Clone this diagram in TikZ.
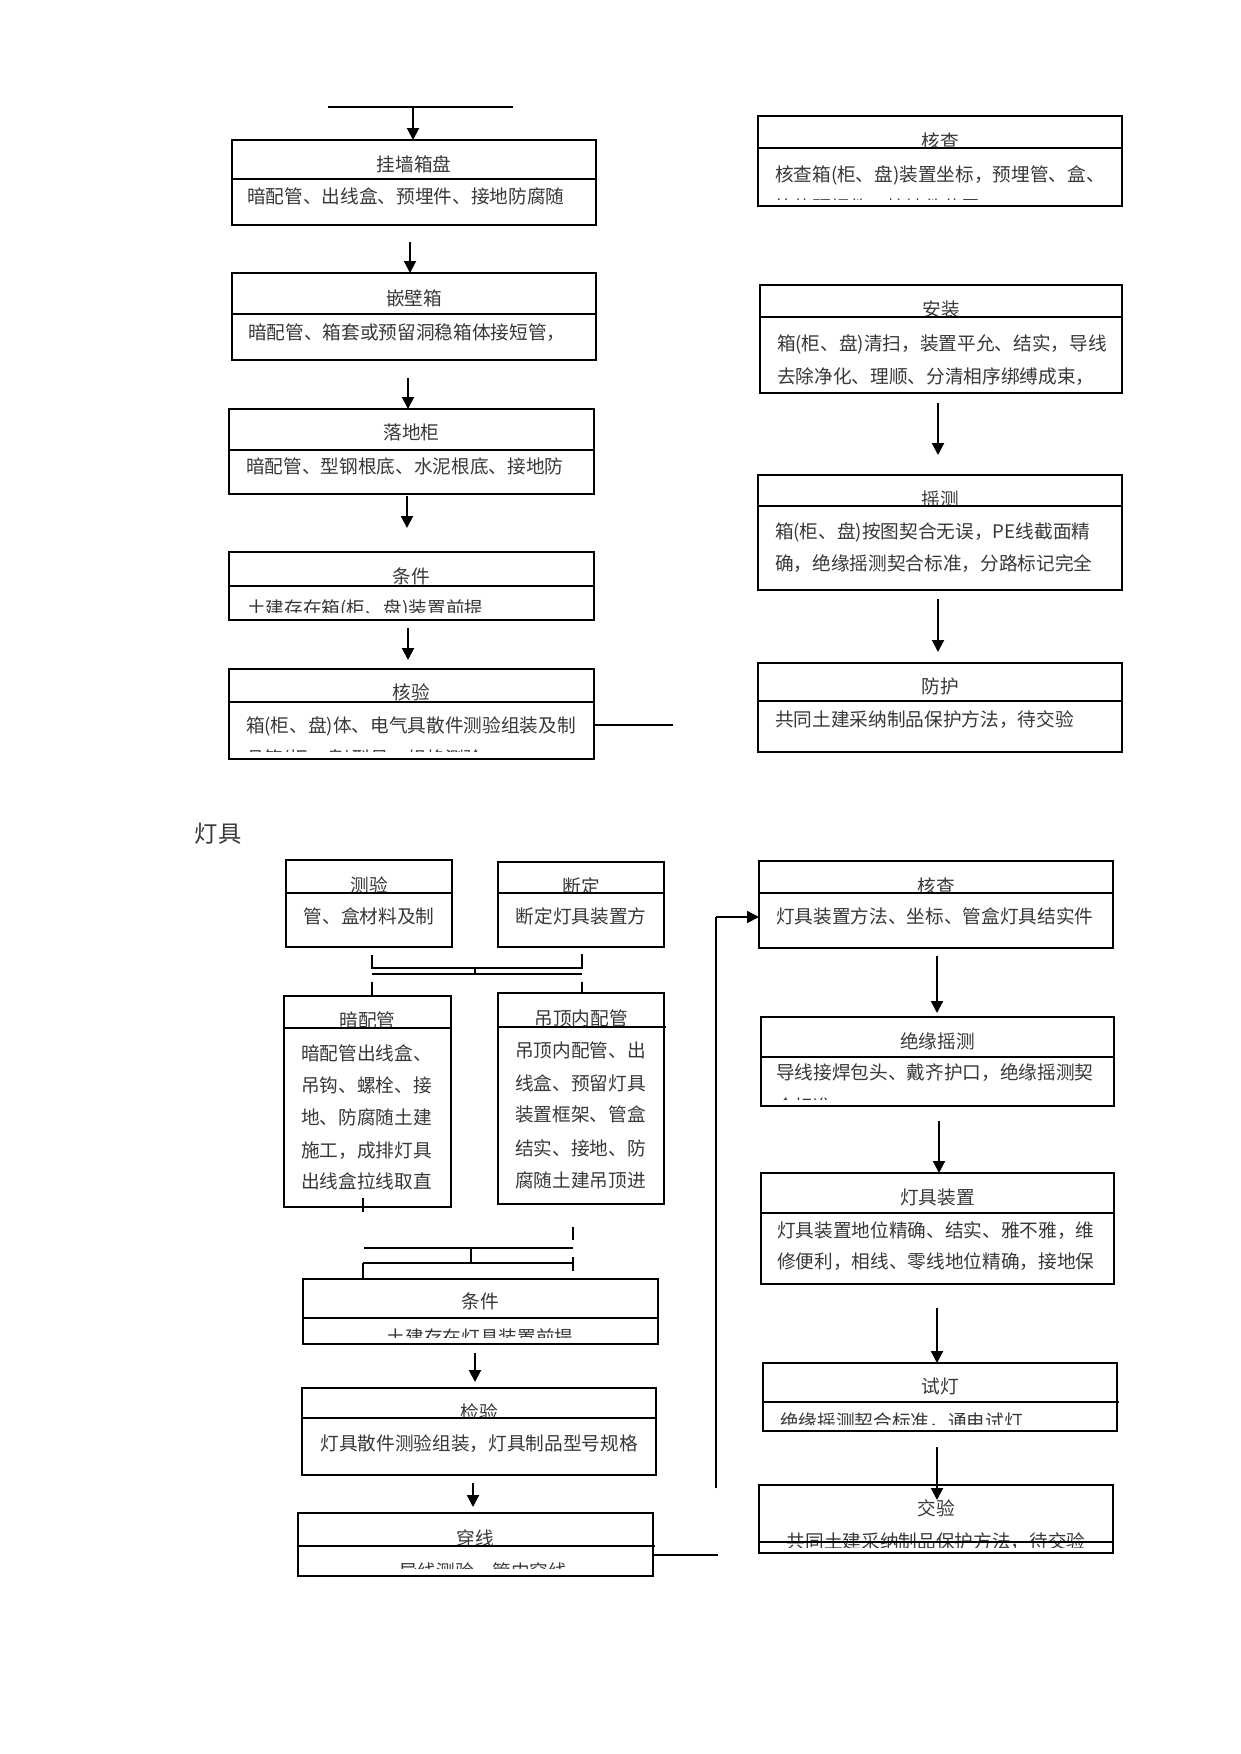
\documentclass[tikz,border=0pt]{standalone}
\usepackage{fontspec}
\newfontfamily\cjkf{Noto Sans CJK SC}
\usetikzlibrary{arrows.meta,fit}
\tikzset{
  boxs/.style={draw, line width=1.4pt, inner sep=0pt, outer sep=0pt},
  divl/.style={line width=1pt},
  txt/.style={font=\cjkf\fontsize{14}{16}\selectfont, inner sep=0pt, outer sep=0pt, text height=11.7pt, text depth=2.3pt, text=black!78},
  arr/.style={line width=1.5pt, -{Triangle[length=9pt,width=9pt]}},
  conn/.style={line width=1pt},
  thk/.style={line width=1.6pt},
}
% name, x1, y1, x2, y2, ydiv, title, title-y
\newcommand\fbx[8]{%
  \node[boxs, fit={(#2,#3) (#4,#5)}] (#1) {};
  \begin{scope}
    \clip (#2,#3) rectangle (#4,#6);
    \node[txt] (#1-t) at ({(#2+#4)/2},#8) {#7};
  \end{scope}
  \draw[divl] (#2,#6) -- (#4,#6);
}
\begin{document}
\begin{tikzpicture}[x=0.75pt,y=-0.75pt]
\fill[white] (0,0) rectangle (1241,1754);
\useasboundingbox (0,0) rectangle (1241,1754);

%================ upper left column
\coordinate (t0a) at (328,107); \coordinate (t0b) at (513,107);
\draw[thk] (t0a) -- (t0b);
\fbx{L1}{232}{140}{596}{225}{179}{挂墙箱盘}{165}
\coordinate (t0m) at (413,107);
\draw[arr] (t0m) -- (t0m |- L1.north);
\node[txt,anchor=west] (L1-a) at (247,197) {暗配管、出线盒、预埋件、接地防腐随};

\fbx{L2}{232}{273}{596}{360}{314}{嵌壁箱}{299}
\node[txt,anchor=west] (L2-a) at (248,333) {暗配管、箱套或预留洞稳箱体接短管，};
\coordinate (a1) at (410,242);
\draw[arr] (a1) -- (a1 |- L2.north);

\fbx{L3}{229}{409}{594}{494}{450}{落地柜}{433}
\node[txt,anchor=west] (L3-a) at (246,467) {暗配管、型钢根底、水泥根底、接地防};
\coordinate (a2) at (408,378);
\draw[arr] (a2) -- (a2 |- L3.north);

\fbx{L4}{229}{552}{594}{620}{586}{条件}{577}
\begin{scope}\clip (229,586) rectangle (594,612);
\node[txt,anchor=west] (L4-a) at (247,609) {土建存在箱(柜、盘)装置前提};
\end{scope}
\coordinate (a3s) at (407,496); \coordinate (a3e) at (407,528);
\draw[arr] (a3s) -- (a3e);

\fbx{L5}{229}{669}{594}{759}{702}{核验}{693}
\begin{scope}\clip (229,702) rectangle (594,751);
\node[txt,anchor=west] (L5-a) at (246,726) {箱(柜、盘)体、电气具散件测验组装及制};
\node[txt,anchor=west] (L5-b) at (246,759) {品箱(柜、盘)型号、规格测验};
\end{scope}
\coordinate (a4s) at (408,628); \coordinate (a4e) at (408,660);
\draw[arr] (a4s) -- (a4e);
\coordinate (k1) at (673,725);
\draw[thk] (L5.east |- k1) -- (k1);

%================ upper right column
\fbx{R1}{758}{116}{1122}{206}{148}{核查}{142}
\begin{scope}\clip (758,148) rectangle (1122,199);
\node[txt,anchor=west] (R1-a) at (775,175) {核查箱(柜、盘)装置坐标，预埋管、盒、};
\node[txt,anchor=west] (R1-b) at (775,208) {箱体预埋件、接地件位置};
\end{scope}

\fbx{R2}{760}{285}{1122}{393}{317}{安装}{310}
\node[txt,anchor=west] (R2-a) at (777,344) {箱(柜、盘)清扫，装置平允、结实，导线};
\node[txt,anchor=west] (R2-b) at (777,377) {去除净化、理顺、分清相序绑缚成束，};

\fbx{R3}{758}{475}{1122}{590}{506}{摇测}{500}
\node[txt,anchor=west] (R3-a) at (775,532) {箱(柜、盘)按图契合无误，PE线截面精};
\node[txt,anchor=west] (R3-b) at (775,564) {确，绝缘摇测契合标准，分路标记完全};
\coordinate (b1s) at (938,403); \coordinate (b1e) at (938,455);
\draw[arr] (b1s) -- (b1e);

\fbx{R4}{758}{663}{1122}{752}{701}{防护}{687}
\node[txt,anchor=west] (R4-a) at (775,720) {共同土建采纳制品保护方法，待交验};
\coordinate (b2s) at (938,599); \coordinate (b2e) at (938,652);
\draw[arr] (b2s) -- (b2e);

%================ heading
\node[txt, font=\cjkf\fontsize{17.5}{20}\selectfont, text height=14.6pt, text depth=2.9pt] (hd) at (218,835) {灯具};

%================ lower left part
\fbx{C1}{286}{860}{452}{947}{893}{测验}{886}
\node[txt] (C1-a) at (369,917) {管、盒材料及制};
\fbx{C2}{498}{862}{664}{947}{893}{断定}{887}
\node[txt] (C2-a) at (581,917) {断定灯具装置方};

% junction under C1 / C2
\coordinate (ja) at (372,955); \coordinate (jb) at (372,968);
\coordinate (jc) at (582,954); \coordinate (jd) at (582,968);
\coordinate (je) at (372,974); \coordinate (jf) at (582,974);
\coordinate (jg) at (475,968); \coordinate (jh) at (475,974);
\draw[thk] (ja) -- (jb) -- (jd) -- (jc);
\draw[conn] (je) -- (jf);
\draw[conn] (jg) -- (jh);

\fbx{C3}{284}{996}{451}{1207}{1028}{暗配管}{1021}
\node[txt,anchor=west] (C3-a) at (301,1054) {暗配管出线盒、};
\node[txt,anchor=west] (C3-b) at (301,1086) {吊钩、螺栓、接};
\node[txt,anchor=west] (C3-c) at (301,1118) {地、防腐随土建};
\node[txt,anchor=west] (C3-d) at (301,1151) {施工，成排灯具};
\node[txt,anchor=west] (C3-e) at (301,1182) {出线盒拉线取直};

\fbx{C4}{498}{993}{664}{1204}{1027}{吊顶内配管}{1019}
\draw[divl] (C4.east |- 0,1027) -- (666,1027);
\node[txt,anchor=west] (C4-a) at (515,1051) {吊顶内配管、出};
\node[txt,anchor=west] (C4-b) at (515,1084) {线盒、预留灯具};
\node[txt,anchor=west] (C4-c) at (515,1115) {装置框架、管盒};
\node[txt,anchor=west] (C4-d) at (515,1149) {结实、接地、防};
\node[txt,anchor=west] (C4-e) at (515,1181) {腐随土建吊顶进};

\coordinate (jk) at (372,982); \coordinate (jl) at (582,982);
\draw[thk] (jk) -- (jk |- C3.north);
\draw[thk] (jl) -- (jl |- C4.north);

% junction under C3 / C4
\coordinate (ma) at (363,1198); \coordinate (mb) at (363,1212);
\draw[conn] (ma) -- (mb);
\coordinate (mc) at (573,1227); \coordinate (md) at (573,1240);
\draw[conn] (mc) -- (md);
\coordinate (me) at (364,1248); \coordinate (mf) at (573,1248);
\draw[conn] (me) -- (mf);
\coordinate (mg) at (471,1248); \coordinate (mh) at (471,1263);
\draw[conn] (mg) -- (mh);
\coordinate (mi) at (363,1263); \coordinate (mj) at (573,1263);
\draw[thk] (mi) -- (mj);
\coordinate (mk) at (573,1257); \coordinate (ml) at (573,1271);
\draw[conn] (mk) -- (ml);

\fbx{C5}{303}{1279}{658}{1344}{1318}{条件}{1302}
\begin{scope}\clip (303,1318) rectangle (658,1337);
\node[txt] (C5-a) at (480,1338) {土建存在灯具装置前提};
\end{scope}
\draw[conn] (mi) -- (mi |- C5.north);

\fbx{C6}{302}{1388}{656}{1475}{1418}{检验}{1413}
\node[txt] (C6-a) at (479,1444) {灯具散件测验组装，灯具制品型号规格};
\coordinate (c1s) at (475,1353); \coordinate (c1e) at (475,1382);
\draw[arr] (c1s) -- (c1e);

\fbx{C7}{298}{1513}{653}{1576}{1546}{穿线}{1539}
\draw[divl] (C7.east |- 0,1546) -- (655,1546);
\begin{scope}\clip (298,1546) rectangle (653,1568);
\node[txt] (C7-a) at (483,1572) {导线测验，管内穿线};
\end{scope}
\coordinate (c2s) at (473,1483); \coordinate (c2e) at (473,1507);
\draw[arr] (c2s) -- (c2e);

%================ lower right column
\fbx{D1}{759}{861}{1113}{948}{893}{核查}{887}
\node[txt,anchor=west] (D1-a) at (776,917) {灯具装置方法、坐标、管盒灯具结实件};

\fbx{D2}{761}{1017}{1114}{1106}{1057}{绝缘摇测}{1042}
\begin{scope}\clip (761,1057) rectangle (1114,1099);
\node[txt,anchor=west] (D2-a) at (776,1073) {导线接焊包头、戴齐护口，绝缘摇测契};
\node[txt,anchor=west] (D2-b) at (776,1107) {合标准};
\end{scope}
\coordinate (d1s) at (937,956); \coordinate (d1e) at (937,1013);
\draw[arr] (d1s) -- (d1e);

\fbx{D3}{761}{1173}{1114}{1284}{1213}{灯具装置}{1198}
\node[txt,anchor=west] (D3-a) at (777,1231) {灯具装置地位精确、结实、雅不雅，维};
\node[txt,anchor=west] (D3-b) at (777,1262) {修便利，相线、零线地位精确，接地保};
\coordinate (d2s) at (939,1121);
\draw[arr] (d2s) -- (d2s |- D3.north);

\fbx{D4}{763}{1363}{1117}{1431}{1402}{试灯}{1387}
\draw[divl] (D4.east |- 0,1402) -- (1119,1402);
\begin{scope}\clip (763,1402) rectangle (1117,1424);
\node[txt,anchor=west] (D4-a) at (780,1422) {绝缘摇测契合标准，通电试灯};
\end{scope}
\coordinate (d3s) at (937,1308);
\draw[arr] (d3s) -- (d3s |- D4.north);

\fbx{D5}{759}{1485}{1113}{1553}{1542}{交验}{1509}
\begin{scope}\clip (759,1485) rectangle (1113,1547);
\node[txt] (D5-a) at (936,1542) {共同土建采纳制品保护方法，待交验};
\end{scope}
\draw[divl] (759,1542) -- (1113,1542);
\coordinate (d4s) at (937,1447); \coordinate (d4e) at (937,1500);
\draw[arr] (d4s) -- (d4e);

% feedback line to 核查
\coordinate (fb1) at (716,1488); \coordinate (fb2) at (716,917);
\draw[conn] (fb1) -- (fb2);
\draw[arr, line width=1.2pt] (fb2) -- (D1.west |- fb2);
\coordinate (fb3) at (718,1555);
\draw[conn] (C7.east |- fb3) -- (fb3);
\end{tikzpicture}
\end{document}
